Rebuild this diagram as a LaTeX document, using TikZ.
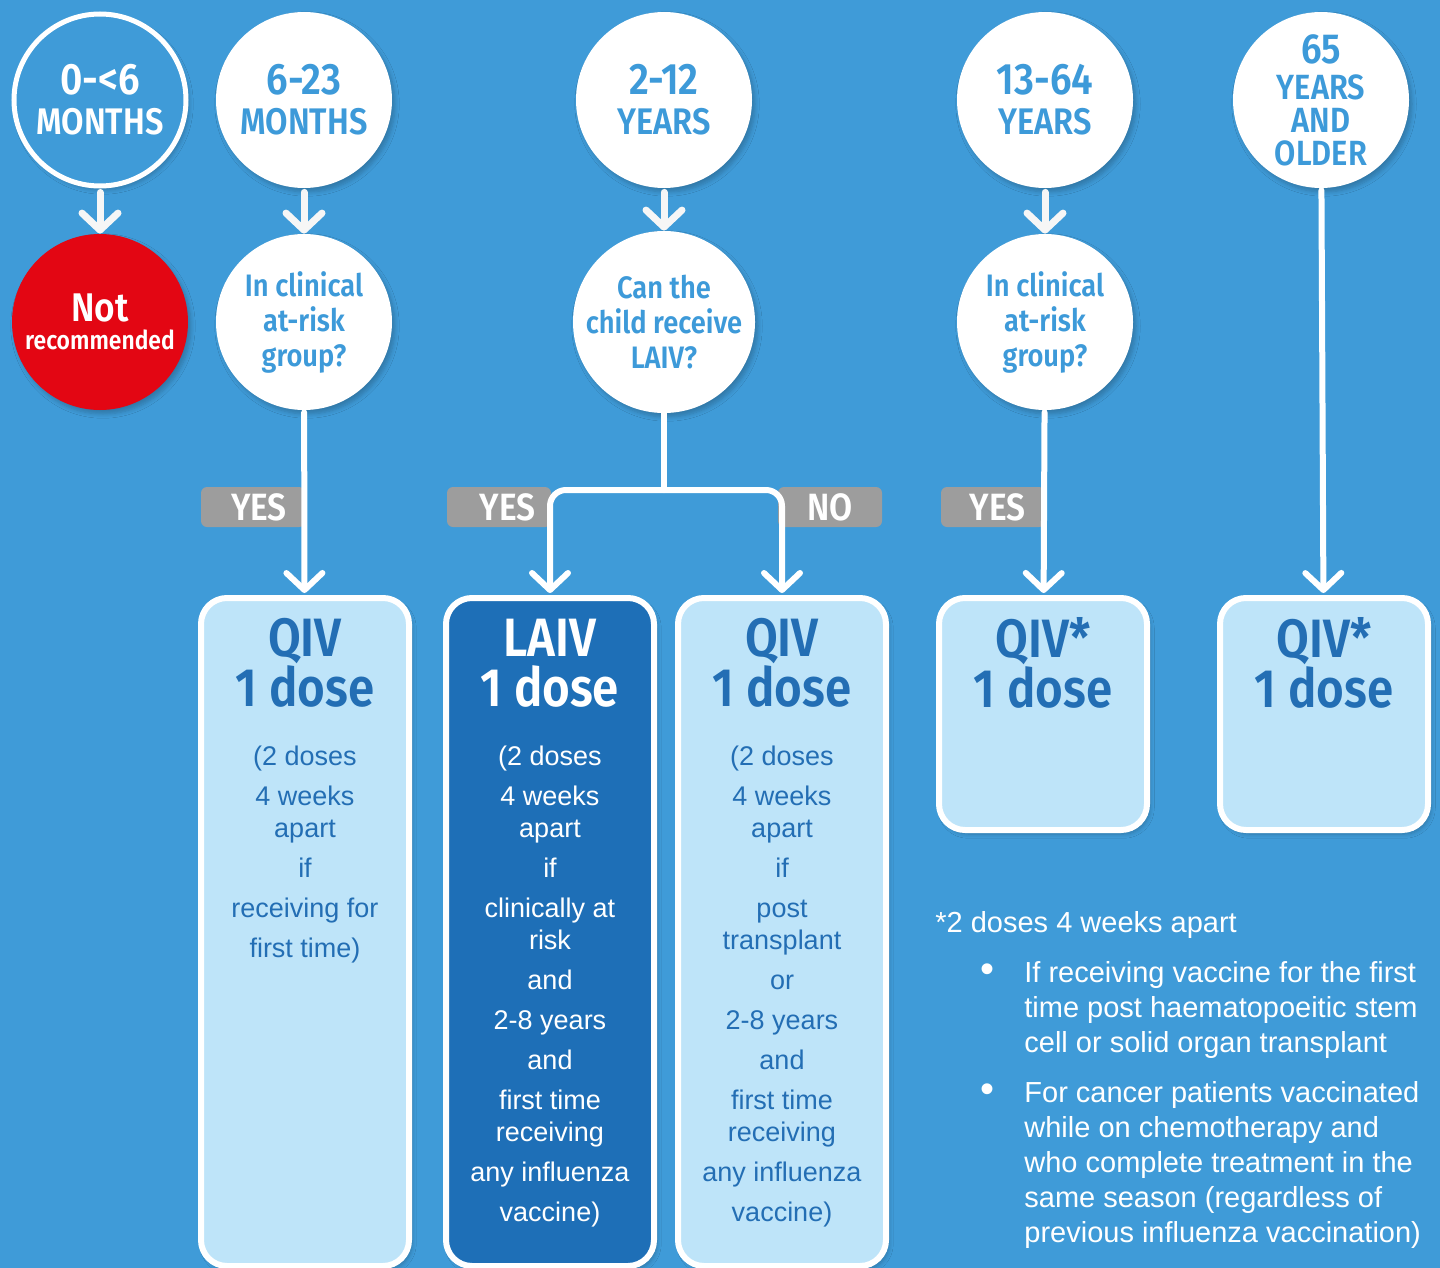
\documentclass[tikz,border=0pt]{standalone}
\usepackage{fontspec}
\setmainfont{Liberation Sans}
\newfontfamily\dinfont{Fira Sans}[FakeStretch=0.88, BoldFont={Fira Sans SemiBold}]
\usetikzlibrary{arrows.meta,shadows.blur}

\definecolor{bgblue}{HTML}{3F9BD8}
\definecolor{ageblue}{HTML}{3D9AD9}
\definecolor{paleblue}{HTML}{BEE4F9}
\definecolor{deepblue}{HTML}{1E6FB7}
\definecolor{inkblue}{HTML}{236EB4}
\definecolor{alertred}{HTML}{E30613}
\definecolor{taggray}{HTML}{9D9D9D}

\tikzset{
  soft/.style={blur shadow={shadow blur steps=6, shadow xshift=1.5pt, shadow yshift=-2pt, shadow opacity=22}},
  age/.style={circle, fill=white, minimum size=88pt, inner sep=0pt, align=center, text=ageblue, soft,
    font=\dinfont\bfseries\fontsize{18.5}{20}\selectfont},
  first/.style={age, fill=bgblue, draw=white, line width=2.5pt, minimum size=86pt, text=white},
  ask/.style={age, font=\dinfont\bfseries\fontsize{15.5}{17.5}\selectfont},
  stop/.style={age, fill=alertred, text=white},
  vbox/.style={rectangle, rounded corners=13pt, draw=white, line width=3pt, fill=paleblue,
    minimum width=104pt, anchor=north, inner sep=0pt, soft},
  vtitle/.style={font=\dinfont\bfseries\fontsize{27}{25}\selectfont, align=center, text=inkblue, inner sep=0pt},
  vbody/.style={font=\fontsize{13.5}{20}\selectfont, align=center, text=inkblue, inner sep=0pt, anchor=north},
  tag/.style={fill=taggray, rounded corners=3pt, minimum width=52pt, minimum height=20pt, inner sep=0pt,
    text=white, font=\dinfont\bfseries\fontsize{19}{19}\selectfont},
  note/.style={text=white, font=\fontsize{14.5}{17.5}\selectfont, inner sep=0pt, align=left},
  stem/.style={draw=white, line width=3pt, line cap=round},
  arr/.style={stem, -{Straight Barb[length=8.5pt,width=18pt,round]}},
}

\begin{document}
\begin{tikzpicture}[x=0.5pt,y=-0.5pt]
	\useasboundingbox (0,0) rectangle (1440,1268);
	\fill[bgblue] (0,0) rectangle (1440,1268);

	% answer tags, under the connectors
	\node (Y1) at ( 253, 507) [tag] {\hspace{6pt}YES};
	\node (Y2) at ( 499, 507) [tag] {\hspace{8.5pt}YES};
	\node (N2) at ( 830, 507) [tag] {NO\hspace{4pt}};
	\node (Y3) at ( 993, 507) [tag] {\hspace{4.5pt}YES};

	% age groups
	\node (A1) at ( 100, 100) [first] {{\fontsize{22}{20}\selectfont 0-<6}\\MONTHS};
	\node (A2) at ( 304, 100) [age]   {{\fontsize{22}{20}\selectfont 6-23}\\MONTHS};
	\node (A3) at ( 664, 100) [age]   {{\fontsize{22}{20}\selectfont 2-12}\\YEARS};
	\node (A4) at (1045, 100) [age]   {{\fontsize{22}{20}\selectfont 13-64}\\YEARS};
	\node (A5) at (1321, 100) [age, font=\dinfont\bfseries\fontsize{17.5}{16.5}\selectfont]
		{{\fontsize{21}{16.5}\selectfont 65}\\[1.5pt]YEARS\\AND\\OLDER};

	% questions
	\node (NR) at ( 100, 322) [stop] {{\fontsize{20}{16}\selectfont Not}\\[-6pt]{\fontsize{13}{16}\selectfont recommended}};
	\node (Q1) at ( 304, 322) [ask] {In clinical\\at-risk\\group?};
	\node (Q2) at ( 664, 322) [ask] {Can the\\child receive\\LAIV?};
	\node (Q3) at (1045, 322) [ask] {In clinical\\at-risk\\group?};

	% vaccines
	\node (V1) at ( 305, 595) [vbox, minimum height=334pt] {};
	\node (V2) at ( 550, 595) [vbox, minimum height=334pt, fill=deepblue] {};
	\node (V3) at ( 782, 595) [vbox, minimum height=334pt] {};
	\node (V4) at (1043, 595) [vbox, minimum height=116pt] {};
	\node (V5) at (1324, 595) [vbox, minimum height=116pt] {};

	\node (V1t) at ( 305, 663) [vtitle] {QIV\\1 dose};
	\node (V2t) at ( 550, 663) [vtitle, text=white] {LAIV\\1 dose};
	\node (V3t) at ( 782, 663) [vtitle] {QIV\\1 dose};
	\node (V4t) at (1043, 663) [vtitle] {QIV*\\1 dose};
	\node (V5t) at (1324, 663) [vtitle] {QIV*\\1 dose};

	\node (V1b) at ( 305, 746) [vbody]
		{(2 doses\\4 weeks\\[-4pt]apart\\if\\receiving for\\first time)};
	\node (V2b) at ( 550, 746) [vbody, text=white]
		{(2 doses\\4 weeks\\[-4pt]apart\\if\\clinically at\\[-4pt]risk\\and\\2-8 years\\and\\first time\\[-4pt]receiving\\any influenza\\vaccine)};
	\node (V3b) at ( 782, 746) [vbody]
		{(2 doses\\4 weeks\\[-4pt]apart\\if\\post\\[-4pt]transplant\\or\\2-8 years\\and\\first time\\[-4pt]receiving\\any influenza\\vaccine)};

	% footnote
	\node (FN) at ( 935, 932) [note, anchor=base west] {*2 doses 4 weeks apart};
	\node (D1) at ( 987, 973) [note, font=\fontsize{20}{20}\selectfont] {•};
	\node (D2) at ( 987,1093) [note, font=\fontsize{20}{20}\selectfont] {•};
	\node (B1) at (1024, 961) [note, anchor=north west]
		{If receiving vaccine for the first\\time post haematopoeitic stem\\cell or solid organ transplant};
	\node (B2) at (1024,1081) [note, anchor=north west]
		{For cancer patients vaccinated\\while on chemotherapy and\\who complete treatment in the\\same season (regardless of\\previous influenza vaccination)};

	% connectors
	\draw[arr, draw=white!93!gray, line width=3.5pt, shorten <=2pt] (A1) -- (NR);
	\draw[arr, draw=white!93!gray, line width=3.5pt, shorten <=2pt] (A2) -- (Q1);
	\draw[arr, draw=white!93!gray, line width=3.5pt, shorten <=2pt] (A3) -- (Q2);
	\draw[arr, draw=white!93!gray, line width=3.5pt, shorten <=2pt] (A4) -- (Q3);
	\draw[arr, shorten <=1pt, shorten >=1pt] (Q1) -- (V1);
	\draw[arr, shorten <=1pt, shorten >=1pt] (Q3) -- (V4);
	\draw[arr, shorten <=1pt, shorten >=1pt] (A5) -- (V5);
	\coordinate (J) at (664,490);
	\draw[stem] (Q2) -- (J);
	\draw[arr, rounded corners=8pt, shorten >=1pt] (J) -| (V2);
	\draw[arr, rounded corners=8pt, shorten >=1pt] (J) -| (V3);
\end{tikzpicture}
\end{document}
